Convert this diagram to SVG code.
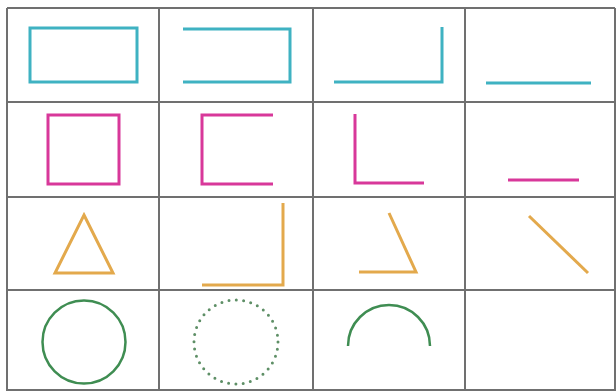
<svg xmlns="http://www.w3.org/2000/svg" width="616" height="391" viewBox="0 0 616 391">
<style>
.grid{stroke:#707070;stroke-width:2;fill:none}
.cy{stroke:#3fb2c2;stroke-width:3;fill:none}
.mg{stroke:#d8389a;stroke-width:3;fill:none}
.or{stroke:#e3a94c;stroke-width:3;fill:none}
.gr{stroke:#3f8d52;stroke-width:2.5;fill:none}
.dot{stroke:#5e8f66;stroke-width:3;fill:none;stroke-linecap:round;stroke-dasharray:0 7.33}
</style>
<rect width="616" height="391" fill="#ffffff"/>
<g id="grid" class="grid">
<path d="M7 8H615M7 102H615M7 197H615M7 290H615M7 390H615"/>
<path d="M7 8V391M159 8V391M313 8V391M465 8V391M615 8V391"/>
</g>
<g id="r1c1"><rect class="cy" x="30" y="28" width="107" height="54"/></g>
<g id="r1c2"><path class="cy" d="M183 29H290V82H183"/></g>
<g id="r1c3"><path class="cy" d="M442 27V82H334"/></g>
<g id="r1c4"><path class="cy" d="M486 83H591"/></g>
<g id="r2c1"><rect class="mg" x="48" y="115" width="71" height="69"/></g>
<g id="r2c2"><path class="mg" d="M273 115H202V184H273"/></g>
<g id="r2c3"><path class="mg" d="M355 114V183H424"/></g>
<g id="r2c4"><path class="mg" d="M508 180H579"/></g>
<g id="r3c1"><path class="or" d="M84 215L113 273H55Z"/></g>
<g id="r3c2"><path class="or" d="M283 203V285H202"/></g>
<g id="r3c3"><path class="or" d="M389 213L416 272H359"/></g>
<g id="r3c4"><path class="or" d="M529 216L588 273"/></g>
<g id="r4c1"><circle class="gr" cx="84" cy="342" r="41.5"/></g>
<g id="r4c2"><circle class="dot" cx="236" cy="342" r="42"/></g>
<g id="r4c3"><path class="gr" d="M348 346A41 41 0 0 1 430 346"/></g>
</svg>
